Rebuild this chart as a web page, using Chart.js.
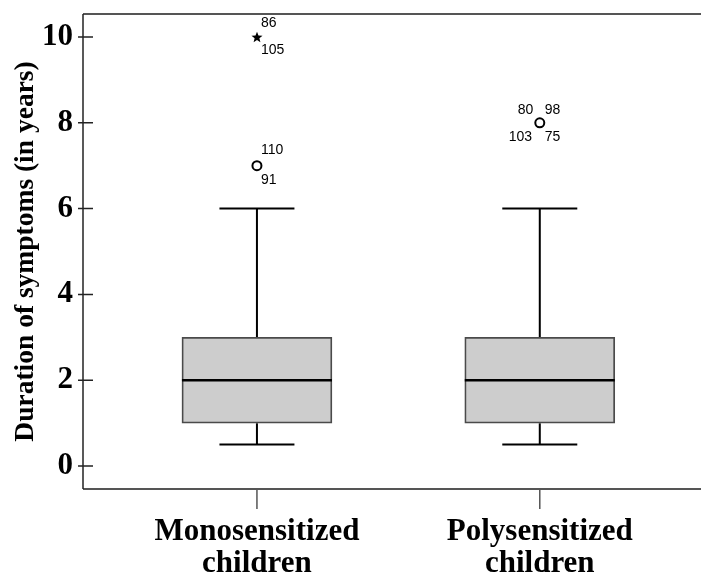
<!DOCTYPE html>
<html>
<head>
<meta charset="utf-8">
<script src="https://cdn.jsdelivr.net/npm/chart.js@4/dist/chart.umd.min.js"></script>
<style>
  html, body { margin: 0; padding: 0; background: #ffffff; }
  #wrap { width: 701px; height: 575px; }
</style>
</head>
<body>
<div id="wrap"><canvas id="c" width="701" height="575"></canvas></div>
<script>
// ---- data ----
const categories = [['Monosensitized', 'children'], ['Polysensitized', 'children']];
const whiskerLow = [0.5, 0.5];
const q1 = [1, 1];
const medians = [2, 2];
const q3 = [3, 3];
const whiskerHigh = [6, 6];
const outlierCircles = [{ x: 0, y: 7 }, { x: 1, y: 8 }];
const outlierStars = [{ x: 0, y: 10 }];
// labels: [text, dx, dy] relative to the point
const circleLabels = [
  [['110', 4, -16], ['91', 4, 14]],
  [['80', -22, -13], ['98', 5, -13], ['103', -31, 14], ['75', 5, 14]]
];
const starLabels = [[['86', 4, -14], ['105', 4, 13]]];
const yTicks = [0, 2, 4, 6, 8, 10];
const yTitle = 'Duration of symptoms (in years)';

const serif = '"Liberation Serif", "Times New Roman", serif';
const sans = '"Liberation Sans", Arial, sans-serif';

// filled five-point star marker
const starImg = document.createElement('canvas');
starImg.width = 12; starImg.height = 12;
(function () {
  const g = starImg.getContext('2d');
  g.fillStyle = '#000';
  g.beginPath();
  for (let k = 0; k < 10; k++) {
    const r = k % 2 === 0 ? 5.8 : 2.5;
    const a = -Math.PI / 2 + k * Math.PI / 5;
    const px = 6 + r * Math.cos(a), py = 6.6 + r * Math.sin(a);
    if (k === 0) g.moveTo(px, py); else g.lineTo(px, py);
  }
  g.closePath();
  g.fill();
})();

const boxPlugin = {
  id: 'boxExtras',
  beforeDatasetsDraw(chart) {
    const ctx = chart.ctx, xs = chart.scales.x, ys = chart.scales.y;
    ctx.save();
    ctx.strokeStyle = '#000';
    ctx.lineWidth = 2;
    for (let i = 0; i < categories.length; i++) {
      const cx = xs.getPixelForValue(i);
      const capHalf = 37.5;
      ctx.beginPath();
      ctx.moveTo(cx, ys.getPixelForValue(q3[i]));
      ctx.lineTo(cx, ys.getPixelForValue(whiskerHigh[i]));
      ctx.moveTo(cx - capHalf, ys.getPixelForValue(whiskerHigh[i]));
      ctx.lineTo(cx + capHalf, ys.getPixelForValue(whiskerHigh[i]));
      ctx.moveTo(cx, ys.getPixelForValue(q1[i]));
      ctx.lineTo(cx, ys.getPixelForValue(whiskerLow[i]));
      ctx.moveTo(cx - capHalf, ys.getPixelForValue(whiskerLow[i]));
      ctx.lineTo(cx + capHalf, ys.getPixelForValue(whiskerLow[i]));
      ctx.stroke();
    }
    ctx.restore();
  },
  afterDatasetsDraw(chart) {
    const ctx = chart.ctx, xs = chart.scales.x, ys = chart.scales.y, ca = chart.chartArea;
    ctx.save();
    ctx.strokeStyle = '#000';
    ctx.lineWidth = 2.5;
    for (let i = 0; i < categories.length; i++) {
      const cx = xs.getPixelForValue(i);
      const y = ys.getPixelForValue(medians[i]);
      ctx.beginPath();
      ctx.moveTo(cx - 75, y);
      ctx.lineTo(cx + 75, y);
      ctx.stroke();
    }
    ctx.strokeStyle = '#555';
    ctx.lineWidth = 2;
    ctx.beginPath();
    ctx.moveTo(ca.left, ca.top);
    ctx.lineTo(ca.right, ca.top);
    ctx.moveTo(ca.left, ca.bottom);
    ctx.lineTo(ca.right, ca.bottom);
    ctx.stroke();
    ctx.strokeStyle = '#222';
    ctx.lineWidth = 1.5;
    ctx.beginPath();
    ctx.moveTo(ca.left, ca.top);
    ctx.lineTo(ca.left, ca.bottom);
    ctx.stroke();
    ctx.beginPath();
    yTicks.forEach(v => {
      const y = ys.getPixelForValue(v);
      ctx.moveTo(ca.left - 5, y);
      ctx.lineTo(ca.left + 10, y);
    });
    ctx.stroke();
    ctx.strokeStyle = '#555';
    ctx.beginPath();
    for (let i = 0; i < categories.length; i++) {
      const cx = xs.getPixelForValue(i);
      ctx.moveTo(cx, ca.bottom);
      ctx.lineTo(cx, ca.bottom + 20);
    }
    ctx.stroke();
    ctx.fillStyle = '#000';
    ctx.font = '14px ' + sans;
    ctx.textAlign = 'left';
    ctx.textBaseline = 'middle';
    const drawLabels = (pts, labs) => {
      pts.forEach((p, k) => {
        const px = xs.getPixelForValue(p.x), py = ys.getPixelForValue(p.y);
        (labs[k] || []).forEach(l => ctx.fillText(l[0], px + l[1], py + l[2]));
      });
    };
    drawLabels(outlierCircles, circleLabels);
    drawLabels(outlierStars, starLabels);
    ctx.restore();
  }
};

new Chart(document.getElementById('c'), {
  data: {
    datasets: [
      {
        type: 'bar',
        data: categories.map((c, i) => ({ x: i, y: [q1[i], q3[i]] })),
        backgroundColor: '#cdcdcd',
        borderColor: '#4a4a4a',
        borderWidth: 1.8,
        borderSkipped: false,
        barThickness: 150
      },
      {
        type: 'scatter',
        data: outlierCircles,
        pointStyle: 'circle',
        radius: 4.5,
        borderWidth: 2,
        borderColor: '#000',
        backgroundColor: '#fff'
      },
      {
        type: 'scatter',
        data: outlierStars,
        pointStyle: starImg,
        radius: 6
      }
    ]
  },
  options: {
    responsive: false,
    animation: false,
    events: [],
    layout: { autoPadding: false, padding: { top: 14, right: 0, left: 0, bottom: 0 } },
    plugins: { legend: { display: false }, tooltip: { enabled: false } },
    scales: {
      x: {
        type: 'linear',
        offset: false,
        min: -0.615,
        max: 1.57,
        grid: { display: false, drawTicks: false },
        border: { display: false },
        afterBuildTicks: s => { s.ticks = categories.map((c, i) => ({ value: i })); },
        afterFit: s => { s.height = 86; s.paddingLeft = 0; s.paddingRight = 0; },
        ticks: {
          autoSkip: false,
          maxRotation: 0,
          padding: 27,
          color: '#000',
          font: { family: serif, size: 31, weight: 'bold', lineHeight: 1.03 },
          callback: v => categories[v]
        }
      },
      y: {
        type: 'linear',
        min: -0.535,
        max: 10.535,
        grid: { display: false, drawTicks: false },
        border: { display: false },
        afterBuildTicks: s => { s.ticks = yTicks.map(v => ({ value: v })); },
        afterFit: s => { s.width = 83; s.paddingTop = 0; s.paddingBottom = 0; },
        ticks: {
          padding: 10,
          color: '#000',
          font: { family: serif, size: 31, weight: 'bold' },
          callback: v => String(v)
        },
        title: {
          display: true,
          text: yTitle,
          color: '#000',
          padding: { top: 12, bottom: 0 },
          font: { family: serif, size: 27.5, weight: 'bold', lineHeight: 1 }
        }
      }
    }
  },
  plugins: [boxPlugin]
});
</script>
</body>
</html>
